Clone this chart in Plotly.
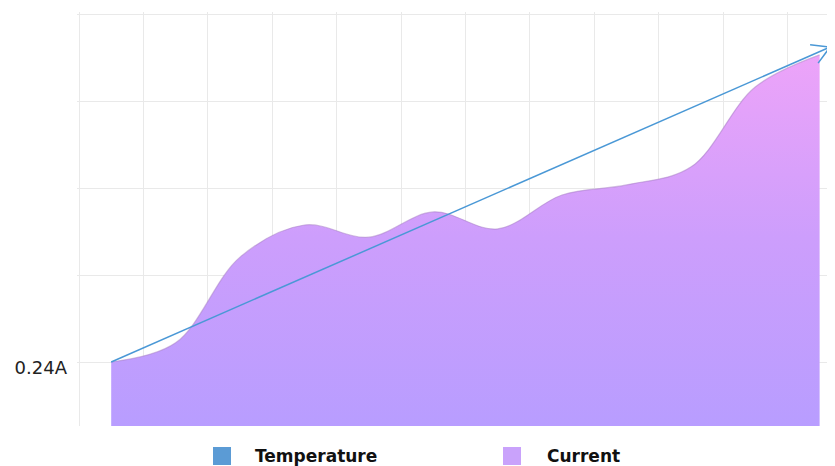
import math
import plotly.graph_objects as go

# ---------------- data ----------------
point_index = [0, 1, 2, 3, 4, 5, 6, 7, 8, 9, 10, 11]
current_values = [0.240, 0.2444, 0.2641, 0.2715, 0.2687, 0.2745,
                  0.2706, 0.2784, 0.2807, 0.2848, 0.3032, 0.3106]
trend_x = [0, 11.161]
trend_y = [0.240, 0.3124]
y_grid_values = [0.24, 0.26, 0.28, 0.30, 0.32]
y_tick_text = ["0.24A", "", "", "", ""]
legend_names = ["Temperature", "Current"]
legend_colors = ["#5b9bd5", "#c9a2fb"]

# ---------------- layout constants (figure pixels) ----------------
W, H = 827, 458
L, R, T, B = 69, 0, 4, 40
PW, PH = W - L - R, H - T - B
x_range = [-0.531, 11.239]
y_range = [0.225287, 0.32046]

px_per_x = PW / (x_range[1] - x_range[0])
px_per_y = PH / (y_range[1] - y_range[0])

arrow_color = "#4a98d6"

fig = go.Figure()

fig.add_trace(go.Scatter(
    x=point_index, y=current_values,
    mode="lines", line=dict(shape="spline", smoothing=1.0, width=1.2,
                            color="rgba(165,125,195,0.5)"),
    fill="tozeroy",
    fillgradient=dict(type="vertical",
                      start=y_range[0], stop=0.312,
                      colorscale=[[0, "#b89dff"], [0.5, "#cd9efc"], [1, "#eea4f9"]]),
    showlegend=False, hoverinfo="skip",
))

fig.add_trace(go.Scatter(
    x=trend_x, y=trend_y, mode="lines",
    line=dict(color=arrow_color, width=1.5),
    showlegend=False, hoverinfo="skip",
))

# open chevron arrow head, arms defined as pixel lengths converted to data units
dx = (trend_x[1] - trend_x[0]) * px_per_x
dy = -(trend_y[1] - trend_y[0]) * px_per_y
n = math.hypot(dx, dy)
bx, by = -dx / n, -dy / n
arm = 20
head_x, head_y = [], []
for i, ang in enumerate((math.radians(30), math.radians(-30))):
    ax = (bx * math.cos(ang) - by * math.sin(ang)) * arm
    ay = (bx * math.sin(ang) + by * math.cos(ang)) * arm
    pt = (trend_x[1] + ax / px_per_x, trend_y[1] - ay / px_per_y)
    if i == 0:
        head_x += [pt[0], trend_x[1]]
        head_y += [pt[1], trend_y[1]]
    else:
        head_x += [pt[0]]
        head_y += [pt[1]]
fig.add_trace(go.Scatter(
    x=head_x, y=head_y, mode="lines",
    line=dict(color=arrow_color, width=1.5),
    showlegend=False, hoverinfo="skip", cliponaxis=False,
))

# legend (manual)
def px_to_paper_x(px):
    return (px - L) / PW

def py_to_paper_y(py):
    return (H - B - py) / PH

legend_sq_left = [205, 495]
legend_text_left = [245, 537]
for name, col, sq, tx in zip(legend_names, legend_colors, legend_sq_left, legend_text_left):
    fig.add_shape(type="rect", xref="paper", yref="paper",
                  x0=px_to_paper_x(sq), x1=px_to_paper_x(sq + 18),
                  y0=py_to_paper_y(457), y1=py_to_paper_y(439),
                  fillcolor=col, line=dict(width=0))
    fig.add_annotation(x=px_to_paper_x(tx), y=py_to_paper_y(448),
                       xref="paper", yref="paper", xanchor="left", yanchor="middle",
                       text=f"<b>{name}</b>", showarrow=False,
                       font=dict(family="DejaVu Sans", size=17, color="#111"))

fig.update_layout(
    width=W, height=H,
    margin=dict(l=L, r=R, t=T, b=B),
    paper_bgcolor="white", plot_bgcolor="white",
    showlegend=False,
    xaxis=dict(range=x_range, tick0=-0.5, dtick=1, showticklabels=False,
               showgrid=True, gridcolor="#e9e9e9", gridwidth=1,
               zeroline=False, showline=False, ticks=""),
    yaxis=dict(range=y_range, tickmode="array", tickvals=y_grid_values,
               ticktext=y_tick_text, showgrid=True, gridcolor="#e9e9e9",
               gridwidth=1, zeroline=False, showline=False, ticks="",
               ticklabelstandoff=9, ticklabelshift=6,
               tickfont=dict(family="DejaVu Sans", size=18, color="#222")),
)

fig.write_html("out.html")
